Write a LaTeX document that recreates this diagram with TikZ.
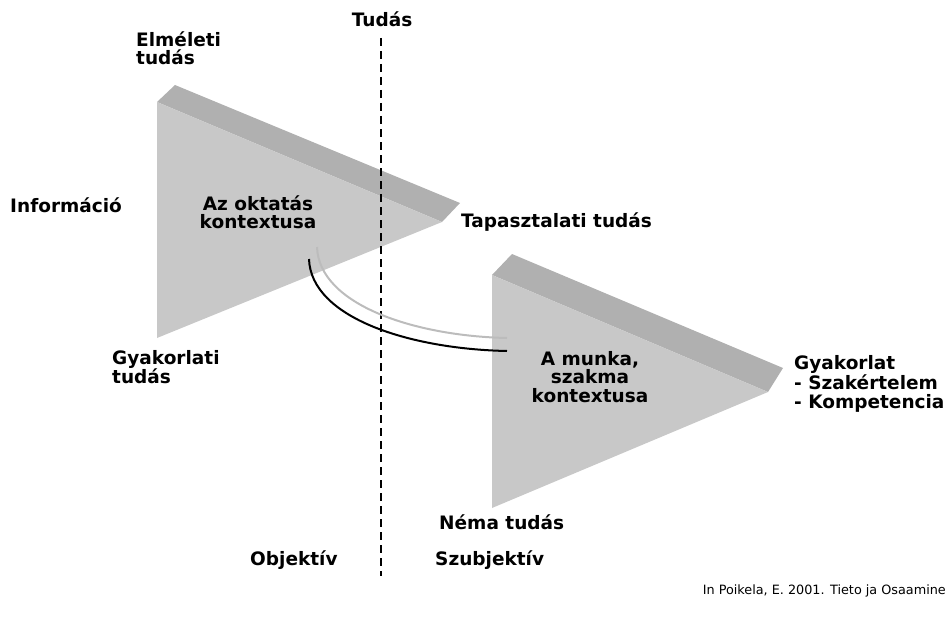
\documentclass[tikz,border=0pt]{standalone}
\usepackage{fontspec}
\setmainfont{DejaVu Sans}
\usetikzlibrary{positioning}
\definecolor{frontgray}{RGB}{200,200,200}
\definecolor{topgray}{RGB}{176,176,176}
\definecolor{arcgray}{RGB}{188,188,188}

\begin{document}
\begin{tikzpicture}[x=1pt,y=-1pt,
  lbl/.style={font=\fontsize{18.5}{18.5}\selectfont\bfseries, align=left, inner sep=0pt},
  ctx/.style={lbl, align=center},
  divider/.style={line width=2.2pt, dash pattern=on 8pt off 5pt},
  arc/.style={line width=2pt}
  ]
  \useasboundingbox (0,0) rectangle (946,618);

  % upper wedge
  \fill[topgray] (157,102) -- (175,85) -- (460,203) -- (442,222) -- cycle;
  \fill[frontgray] (157,102) -- (442,222) -- (157,338) -- cycle;
  % lower wedge
  \fill[topgray] (492,275) -- (512,254) -- (783,368) -- (768,392) -- cycle;
  \fill[frontgray] (492,275) -- (768,392) -- (492,508) -- cycle;

  % divider
  \coordinate (divtop) at (381,38);
  \coordinate (divbot) at (381,576);
  \draw[divider] (divtop) -- (divbot);

  % arcs between the two contexts
  \coordinate (graystart) at (317,247);
  \coordinate (grayend) at (507,338);
  \coordinate (blackstart) at (309,259);
  \coordinate (blackend) at (507,351);
  \draw[arc, arcgray] (graystart) .. controls (319,305) and (415,336) .. (grayend);
  \draw[arc, black] (blackstart) .. controls (311,318) and (410,349) .. (blackend);

  \node[lbl] (tudas) at (382,19) {Tudás};
  \node[lbl, anchor=west] (elmeleti) at (136,48) {Elméleti\\tudás};
  \node[lbl, anchor=west] (info) at (10,205) {Információ};
  \node[ctx] (oktatas) at (258,212) {Az oktatás\\kontextusa};
  \node[lbl, anchor=west] (tapasztalati) at (461,222) {Tapasztalati tudás};
  \node[lbl, anchor=west] (gyakorlati) at (112,367) {Gyakorlati\\tudás};
  \node[ctx] (munka) at (590,377) {A munka,\\szakma\\kontextusa};
  \node[lbl, anchor=west] (gyakorlat) at (794,384) {Gyakorlat\\- Szakértelem\\- Kompetencia};
  \node[lbl, anchor=west] (nema) at (439,522) {Néma tudás};
  \node[lbl, anchor=west] (objektiv) at (250,560) {Objektív};
  \node[lbl, anchor=west] (szubjektiv) at (435,560) {Szubjektív};
  \node[font=\fontsize{12.8}{14}\selectfont, anchor=east, inner sep=0pt] (forras) at (946,591) {In Poikela, E. 2001. Tieto ja Osaamine};
\end{tikzpicture}
\end{document}
